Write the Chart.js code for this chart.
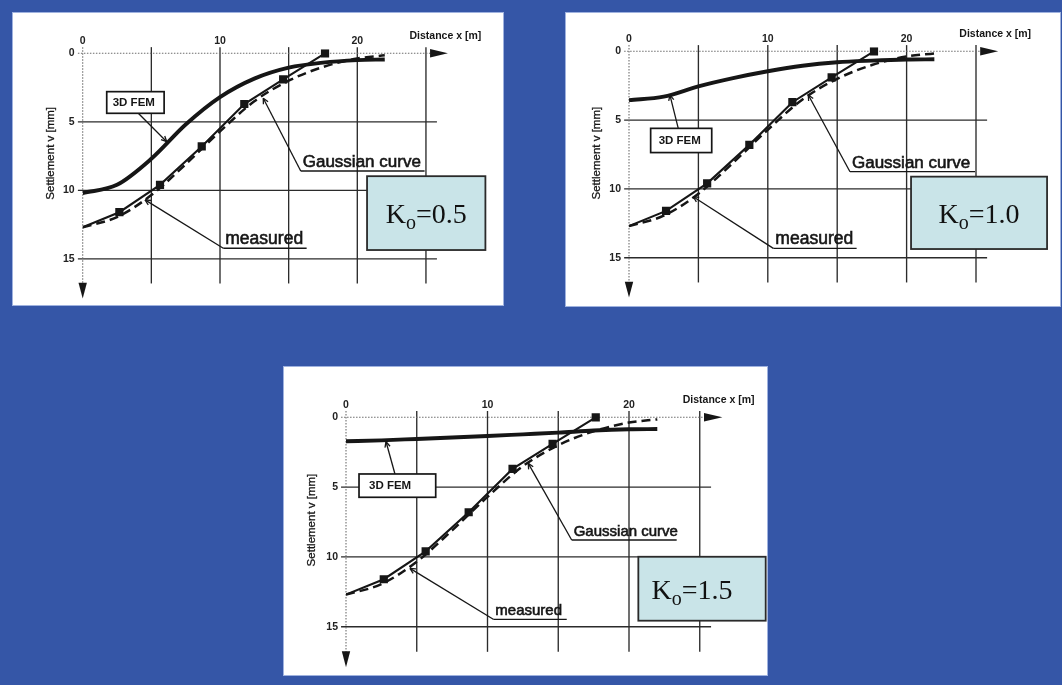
<!DOCTYPE html>
<html>
<head>
<meta charset="utf-8">
<title>Settlement trough – 3D FEM vs measured</title>
<script src="https://cdn.jsdelivr.net/npm/chart.js@4.4.1/dist/chart.umd.min.js"></script>
<style>
  html, body { margin: 0; padding: 0; width: 1062px; height: 685px; overflow: hidden; background: #3556a7; }
  .panel { position: absolute; background: #fff; box-shadow: 0 0 0 1px #9fb2df; }
  .panel canvas { display: block; }
</style>
</head>
<body>
<div class="panel" style="left:13px;top:13px;width:490px;height:292px"><canvas id="c1" width="490" height="292"></canvas></div>
<div class="panel" style="left:566px;top:13px;width:494px;height:293px"><canvas id="c2" width="494" height="293"></canvas></div>
<div class="panel" style="left:284px;top:367px;width:483px;height:308px"><canvas id="c3" width="483" height="308"></canvas></div>
<script>
// ---- data ---------------------------------------------------------------
const distanceTicks   = [0, 10, 20];              // labelled x ticks [m]
const distanceGrid    = [5, 10, 15, 20, 25];      // vertical grid lines [m]
const settlementTicks = [0, 5, 10, 15];           // labelled y ticks [mm]
const settlementGrid  = [5, 10, 15];              // horizontal grid lines [mm]

// field measurements (squares joined by straight segments)
const measuredX = [0, 2.67, 5.63, 8.67, 11.77, 14.6, 17.65];
const measuredV = [12.7, 11.6, 9.6, 6.8, 3.7, 1.9, 0];

// fitted Gaussian trough (dashed)
const gaussX = [0, 2.5, 5, 7.5, 10, 12.5, 15, 17.5, 20, 22];
const gaussV = [12.7, 11.95, 10.35, 8.1, 5.7, 3.5, 2.0, 1.0, 0.38, 0.15];

// 3D FEM settlement for three earth-pressure coefficients
const femX    = [0, 2.5, 5, 7.5, 10, 12.5, 15, 17.5, 20, 22];
const femK05  = [10.2, 9.6, 7.7, 5.2, 3.2, 1.85, 1.05, 0.68, 0.5, 0.45];
const femK10  = [3.55, 3.3, 2.55, 1.95, 1.45, 1.05, 0.8, 0.68, 0.6, 0.58];
const femK15  = [1.72, 1.65, 1.55, 1.45, 1.34, 1.22, 1.1, 0.95, 0.86, 0.84];

const koLabels = ['0.5', '1.0', '1.5'];

// ---- panel layout (pixel origin of x=0 / v=0 and scale factors) ----------
const panels = [
  { id: 'c1', w: 490, h: 292, ox: 69.7, oy: 40.3, kx: 13.73, ky: 13.7, fem: femK05, ko: koLabels[0],
    femBox: [1.75, 2.8, 5.93, 4.38], femPad: 6, femLeader: [[4.05, 4.38], [6.12, 6.45]],
    gauss: { u: [15.88, 24.9, 8.59], tip: [13.15, 3.28], size: 17 },
    meas:  { u: [10.24, 16.31, 14.23], tip: [4.54, 10.7], size: 17.5 },
    koBox: [20.71, 8.97, 29.33, 14.36], koShift: 0, vTitle: [-2.33, 7.3] },
  { id: 'c2', w: 494, h: 293, ox: 63, oy: 38.3, kx: 13.88, ky: 13.76, fem: femK10, ko: koLabels[1],
    femBox: [1.56, 5.6, 5.96, 7.36], femPad: 8, femLeader: [[3.55, 5.6], [2.95, 3.18]],
    gauss: { u: [15.92, 24.93, 8.75], tip: [12.92, 3.18], size: 17 },
    meas:  { u: [10.4, 16.4, 14.32], tip: [4.63, 10.57], size: 17.5 },
    koBox: [20.32, 9.11, 30.12, 14.37], koShift: 0, vTitle: [-2.33, 7.4] },
  { id: 'c3', w: 483, h: 308, ox: 62, oy: 50.3, kx: 14.15, ky: 13.96, fem: femK15, ko: koLabels[2],
    femBox: [0.92, 4.06, 6.34, 5.73], femPad: 10, femLeader: [[3.46, 4.06], [2.83, 1.75]],
    gauss: { u: [15.95, 23.37, 8.79], tip: [12.88, 3.3], size: 15 },
    meas:  { u: [10.41, 15.6, 14.47], tip: [4.52, 10.82], size: 15 },
    koBox: [20.66, 9.99, 29.66, 14.57], koShift: -10, vTitle: [-2.38, 7.36] }
];

const X_MIN = 0, X_MAX = 26, V_MIN = -0.3, V_MAX = 17;
const INK = '#161616';
const SANS = '"Liberation Sans", Arial, sans-serif';
const SERIF = '"Liberation Serif", "Times New Roman", serif';

function pts(xs, ys) { return xs.map((x, i) => ({ x, y: ys[i] })); }

function seg(ctx, a, b) { ctx.beginPath(); ctx.moveTo(a[0], a[1]); ctx.lineTo(b[0], b[1]); ctx.stroke(); }

// small open arrow head at b, pointing from a to b
function openHead(ctx, a, b, len) {
  const ang = Math.atan2(b[1] - a[1], b[0] - a[0]);
  for (const s of [-0.45, 0.45]) {
    seg(ctx, b, [b[0] - len * Math.cos(ang + s), b[1] - len * Math.sin(ang + s)]);
  }
}

// slightly heavy text, like a photocopied figure
function heavyText(ctx, text, x, y, w) {
  ctx.fillText(text, x, y);
  ctx.lineWidth = w;
  ctx.strokeText(text, x, y);
}

const decor = {
  id: 'troughDecor',
  beforeDatasetsDraw(chart, args, o) {
    const { ctx, scales: { x, y } } = chart;
    const P = (vx, vy) => [x.getPixelForValue(vx), y.getPixelForValue(vy)];
    ctx.save();
    // grid
    ctx.strokeStyle = '#2b2b2b';
    ctx.lineWidth = 1.35;
    distanceGrid.forEach(g => seg(ctx, P(g, -0.45), P(g, 16.8)));
    settlementGrid.forEach(g => seg(ctx, P(-0.35, g), P(25.8, g)));
    // axes (dotted) with arrow heads
    ctx.strokeStyle = '#6e6e6e';
    ctx.lineWidth = 1.1;
    ctx.setLineDash([1.5, 1.5]);
    seg(ctx, P(-0.35, 0), P(25.4, 0));
    seg(ctx, P(0, -0.45), P(0, 16.85));
    ctx.setLineDash([]);
    ctx.fillStyle = INK;
    const tx = P(26.6, 0), bx = P(25.3, 0);
    ctx.beginPath(); ctx.moveTo(tx[0], tx[1]); ctx.lineTo(bx[0], bx[1] - 4.2); ctx.lineTo(bx[0], bx[1] + 4.2); ctx.closePath(); ctx.fill();
    const ty = P(0, 17.9), by = P(0, 16.75);
    ctx.beginPath(); ctx.moveTo(ty[0], ty[1]); ctx.lineTo(by[0] - 4.2, by[1]); ctx.lineTo(by[0] + 4.2, by[1]); ctx.closePath(); ctx.fill();
    ctx.restore();
  },
  afterDatasetsDraw(chart, args, o) {
    const { ctx, scales: { x, y } } = chart;
    const p = o.panel;
    const P = (vx, vy) => [x.getPixelForValue(vx), y.getPixelForValue(vy)];
    ctx.save();
    ctx.strokeStyle = INK;
    ctx.fillStyle = INK;

    // axis titles
    ctx.font = 'bold 10.5px ' + SANS;
    ctx.textBaseline = 'middle';
    ctx.textAlign = 'left';
    const dt = P(23.8, -1.25);
    ctx.fillText('Distance x [m]', dt[0], dt[1]);
    const vt = P(p.vTitle[0], p.vTitle[1]);
    ctx.save();
    ctx.translate(vt[0], vt[1]);
    ctx.rotate(-Math.PI / 2);
    ctx.textAlign = 'center';
    ctx.font = '11.5px ' + SANS;
    heavyText(ctx, 'Settlement v [mm]', 0, 0, 0.3);
    ctx.restore();

    // 3D FEM callout
    ctx.lineWidth = 1.3;
    seg(ctx, P(p.femLeader[0][0], p.femLeader[0][1]), P(p.femLeader[1][0], p.femLeader[1][1]));
    openHead(ctx, P(p.femLeader[0][0], p.femLeader[0][1]), P(p.femLeader[1][0], p.femLeader[1][1]), 6);
    const b0 = P(p.femBox[0], p.femBox[1]), b1 = P(p.femBox[2], p.femBox[3]);
    ctx.fillStyle = '#fff';
    ctx.fillRect(b0[0], b0[1], b1[0] - b0[0], b1[1] - b0[1]);
    ctx.lineWidth = 1.7;
    ctx.strokeRect(b0[0], b0[1], b1[0] - b0[0], b1[1] - b0[1]);
    ctx.fillStyle = INK;
    ctx.font = 'bold 11.5px ' + SANS;
    ctx.textAlign = 'left';
    ctx.textBaseline = 'middle';
    ctx.fillText('3D FEM', b0[0] + p.femPad, (b0[1] + b1[1]) / 2 + 0.5);

    // underlined leader callouts
    const callout = (c, text) => {
      const u0 = P(c.u[0], c.u[2]), u1 = P(c.u[1], c.u[2]), tip = P(c.tip[0], c.tip[1]);
      ctx.lineWidth = 1.3;
      seg(ctx, u0, u1);
      seg(ctx, u0, tip);
      openHead(ctx, u0, tip, 6);
      ctx.font = c.size + 'px ' + SANS;
      ctx.textBaseline = 'alphabetic';
      ctx.textAlign = 'left';
      heavyText(ctx, text, u0[0] + 2, u0[1] - 4, 0.6);
    };
    callout(p.gauss, 'Gaussian curve');
    callout(p.meas, 'measured');

    // K0 label box
    const k0 = P(p.koBox[0], p.koBox[1]), k1 = P(p.koBox[2], p.koBox[3]);
    ctx.fillStyle = '#c9e4e8';
    ctx.fillRect(k0[0], k0[1], k1[0] - k0[0], k1[1] - k0[1]);
    ctx.strokeStyle = '#2a2a2a';
    ctx.lineWidth = 1.8;
    ctx.strokeRect(k0[0], k0[1], k1[0] - k0[0], k1[1] - k0[1]);
    const big = '28px ' + SERIF, small = '20px ' + SERIF;
    ctx.font = big; const wK = ctx.measureText('K').width;
    const rest = '=' + p.ko; const wR = ctx.measureText(rest).width;
    ctx.font = small; const wo = ctx.measureText('o').width;
    const total = wK + wo + wR;
    let cx = (k0[0] + k1[0]) / 2 - total / 2 + p.koShift;
    const base = (k0[1] + k1[1]) / 2 + 10;
    ctx.fillStyle = '#111';
    ctx.textBaseline = 'alphabetic';
    ctx.font = big; ctx.fillText('K', cx, base); cx += wK;
    ctx.font = small; ctx.fillText('o', cx, base + 6); cx += wo;
    ctx.font = big; ctx.fillText(rest, cx, base);
    ctx.restore();
  }
};

panels.forEach(p => {
  const left = p.ox;
  const right = p.ox + X_MAX * p.kx;
  const top = p.oy + V_MIN * p.ky;
  const bottom = p.oy + V_MAX * p.ky;
  new Chart(document.getElementById(p.id), {
    type: 'scatter',
    data: {
      datasets: [
        { label: '3D FEM', data: pts(femX, p.fem), showLine: true, borderColor: INK, borderWidth: 3.9,
          pointRadius: 0, cubicInterpolationMode: 'monotone' },
        { label: 'Gaussian curve', data: pts(gaussX, gaussV), showLine: true, borderColor: INK, borderWidth: 2.5,
          borderDash: [9, 5], pointRadius: 0, cubicInterpolationMode: 'monotone' },
        { label: 'measured', data: pts(measuredX, measuredV), showLine: true, borderColor: INK, borderWidth: 2.1,
          tension: 0, pointStyle: 'rect', pointRadius: measuredX.map((_, i) => i === 0 ? 0 : 5.8),
          pointBackgroundColor: INK, pointBorderColor: INK, pointBorderWidth: 0 }
      ]
    },
    options: {
      responsive: false,
      animation: false,
      events: [],
      layout: { padding: { left: 0, top: 0, right: p.w - right, bottom: p.h - bottom } },
      plugins: { legend: { display: false }, tooltip: { enabled: false }, troughDecor: { panel: p } },
      scales: {
        x: {
          type: 'linear', position: 'top', min: X_MIN, max: X_MAX,
          grid: { display: false, drawTicks: false }, border: { display: false },
          afterBuildTicks: s => { s.ticks = distanceTicks.map(v => ({ value: v })); },
          afterFit: s => { s.height = top; },
          ticks: { padding: 1.5, maxRotation: 0, color: '#222', font: { family: SANS, size: 10.5, weight: 'bold' } }
        },
        y: {
          type: 'linear', position: 'left', reverse: true, min: V_MIN, max: V_MAX,
          grid: { display: false, drawTicks: false }, border: { display: false },
          afterBuildTicks: s => { s.ticks = settlementTicks.map(v => ({ value: v })); },
          afterFit: s => { s.width = left; },
          ticks: { padding: 8, color: '#222', font: { family: SANS, size: 10.5, weight: 'bold' } }
        }
      }
    },
    plugins: [decor]
  });
});
</script>
</body>
</html>
